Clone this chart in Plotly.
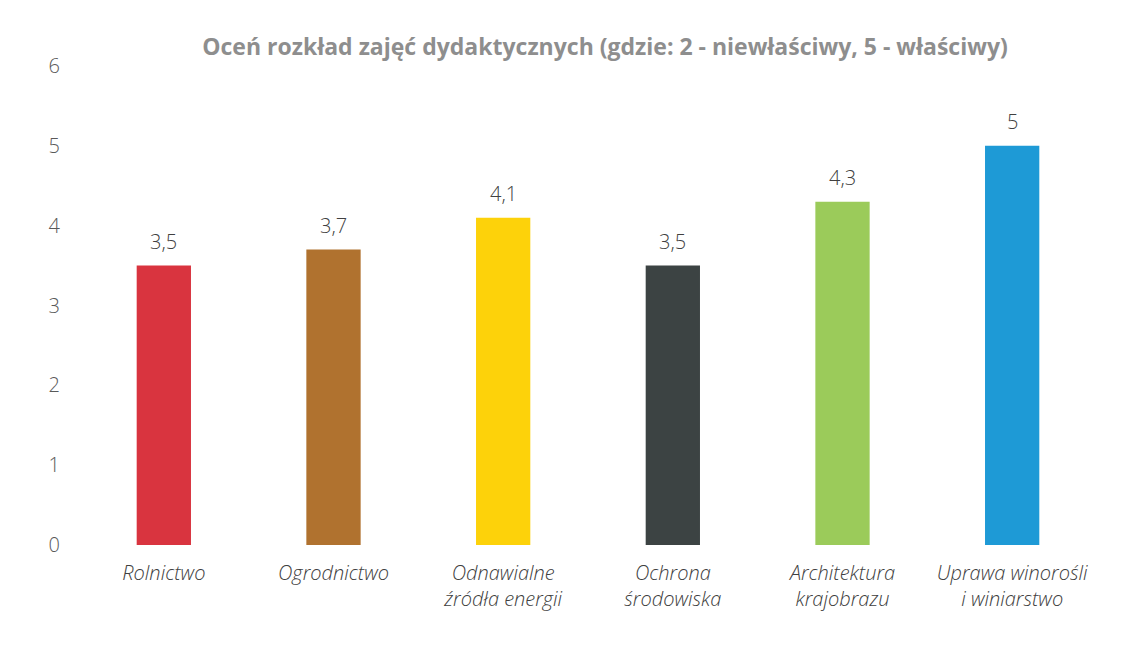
import plotly.graph_objects as go

categories = ["Rolnictwo", "Ogrodnictwo", "Odnawialne<br>źródła energii", "Ochrona<br>środowiska",
              "Architektura<br>krajobrazu", "Uprawa winorośli<br>i winiarstwo"]
values = [3.5, 3.7, 4.1, 3.5, 4.3, 5]
colors = ["#d9343f", "#b0722f", "#fdd20a", "#3c4343", "#9bcb5a", "#1e9ad6"]
y_ticks = [0, 1, 2, 3, 4, 5, 6]

labels = [f"{v:g}".replace(".", ",") for v in values]

fig = go.Figure(go.Bar(
    x=categories, y=values, marker=dict(color=colors, line=dict(width=0)),
))

for c, v, t in zip(categories, values, labels):
    fig.add_annotation(x=c, y=v, text=t, showarrow=False, yanchor="middle", yshift=24,
                       font=dict(family="Open Sans", size=20, weight=300, color="#404040"))

fig.update_layout(
    width=1133, height=654,
    margin=dict(l=71, r=44, t=58, b=117),
    paper_bgcolor="white", plot_bgcolor="white",
    bargap=0.68, showlegend=False,
    title=dict(text="<b>Oceń rozkład zajęć dydaktycznych (gdzie: 2 - niewłaściwy, 5 - właściwy)</b>",
               x=597/1133, xanchor="center", xref="container",
               y=1-39/654, yanchor="middle", yref="container",
               font=dict(family="Open Sans", size=23, color="#8e8e8e")),
)
fig.update_yaxes(range=[0, 6], tickvals=y_ticks, showgrid=False, zeroline=False, showline=False,
                 ticks="", ticklabelstandoff=18,
                 tickfont=dict(family="Open Sans", size=20, weight=300, color="#595959"))
fig.update_xaxes(showgrid=False, showline=False, ticks="", ticklabelstandoff=14,
                 tickfont=dict(family="Open Sans", size=20, weight=300, color="#404040", style="italic"))

fig.write_html("out.html")
